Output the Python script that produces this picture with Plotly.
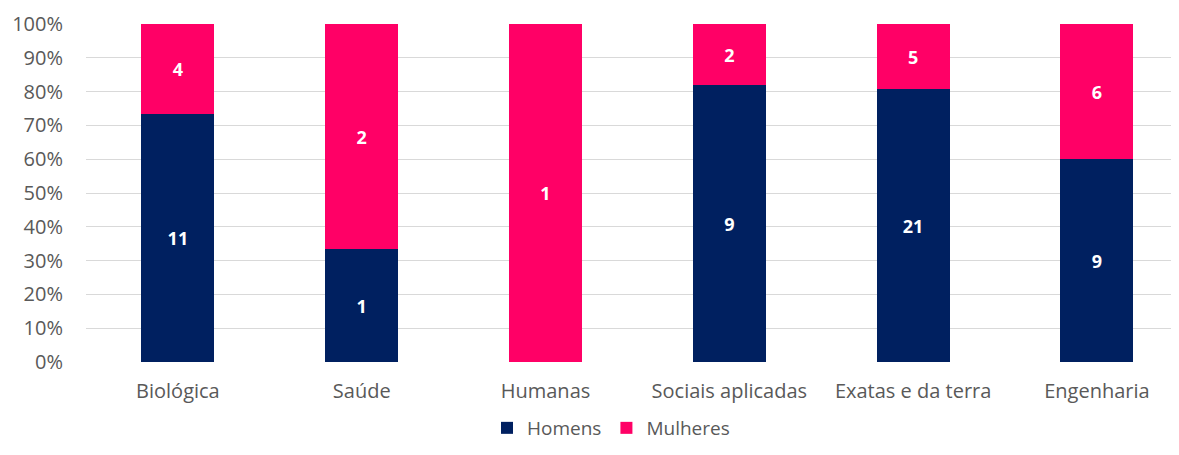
import plotly.graph_objects as go

categorias = ["Biológica", "Saúde", "Humanas", "Sociais aplicadas", "Exatas e da terra", "Engenharia"]
homens = [11, 1, 0, 9, 21, 9]
mulheres = [4, 2, 1, 2, 5, 6]
y_ticks = [0, 10, 20, 30, 40, 50, 60, 70, 80, 90, 100]
y_tick_labels = [f"{v}%" for v in y_ticks]

FONT = "Open Sans"
fig = go.Figure()
for nome, vals, cor in [("Homens", homens, "#002060"), ("Mulheres", mulheres, "#FF0066")]:
    fig.add_trace(go.Bar(
        name=nome, x=categorias, y=vals,
        marker=dict(color=cor, line=dict(width=0)),
        text=[str(v) if v else "" for v in vals],
        textposition="inside", insidetextanchor="middle",
        textfont=dict(family=FONT, size=18, color="white", weight="bold"),
        width=0.397,
    ))

fig.update_layout(
    barmode="stack", barnorm="percent",
    width=1163, height=439,
    margin=dict(l=78, r=0, t=16, b=85, autoexpand=False),
    plot_bgcolor="white", paper_bgcolor="white",
    font=dict(family=FONT, size=20, color="#595959"),
    uniformtext=dict(mode="show", minsize=10),
    showlegend=True,
    legend=dict(orientation="h", xref="container", yref="container",
                x=0.5185, y=-0.025, xanchor="center", yanchor="bottom",
                font=dict(family=FONT, size=19, color="#595959"), traceorder="normal",
                itemwidth=30, tracegroupgap=0),
    xaxis=dict(range=[-0.5, 5.403], showgrid=False, zeroline=False, showline=False,
               ticks="", ticklabelstandoff=15, tickfont=dict(family=FONT, size=20, color="#595959")),
    yaxis=dict(range=[0, 100], tickvals=y_ticks, ticktext=y_tick_labels,
               showgrid=True, gridcolor="#D9D9D9", gridwidth=1.3, zeroline=False,
               showline=False, ticks="", ticklabelstandoff=22,
               tickfont=dict(family=FONT, size=20, color="#595959")),
)
fig.write_html("out.html")
